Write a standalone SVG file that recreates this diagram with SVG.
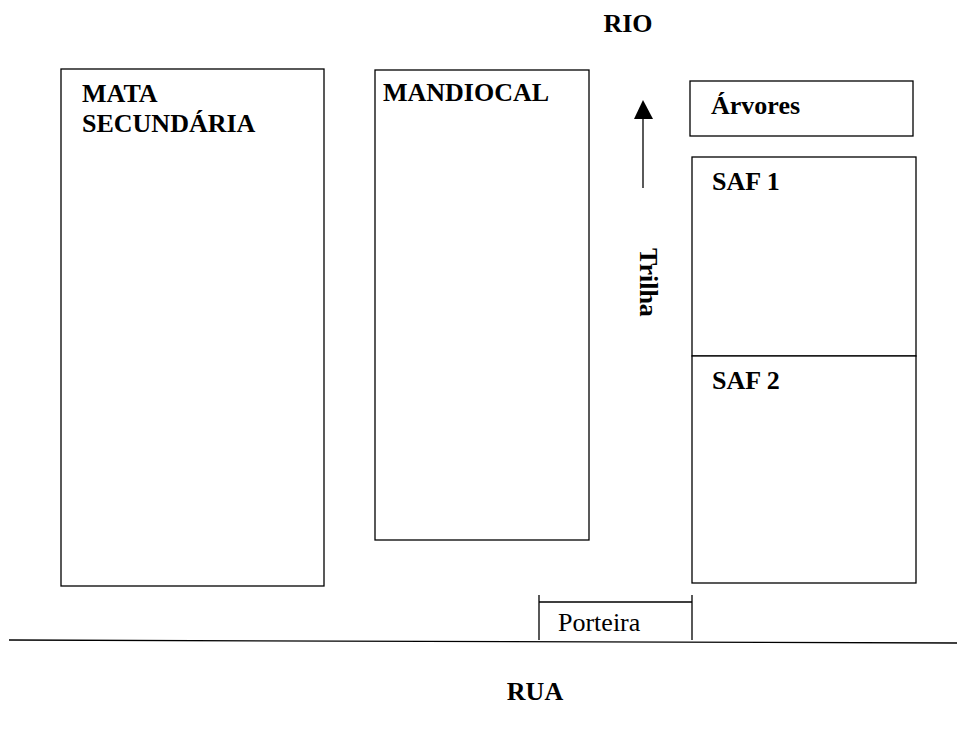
<svg xmlns="http://www.w3.org/2000/svg" width="957" height="740" viewBox="0 0 957 740">
<style>
.box{fill:#fff;stroke:#000;stroke-width:1.3}
.b{font-family:"Liberation Serif","Times New Roman",serif;font-weight:bold;font-size:26px;fill:#000}
.r{font-family:"Liberation Serif","Times New Roman",serif;font-size:26px;fill:#000}
.ln{stroke:#000;stroke-width:1.3;fill:none}
</style>
<rect width="957" height="740" fill="#fff"/>
<g id="mata"><rect class="box" x="61" y="69" width="263" height="517"/><text class="b" x="82" y="102">MATA</text><text class="b" x="82" y="132">SECUNDÁRIA</text></g>
<g id="mandiocal"><rect class="box" x="375" y="70" width="214" height="470"/><text class="b" x="383" y="101">MANDIOCAL</text></g>
<g id="arvores"><rect class="box" x="690" y="81" width="223" height="55"/><text class="b" x="711" y="114">Árvores</text></g>
<g id="saf1"><rect class="box" x="692" y="157" width="224" height="199"/><text class="b" x="712" y="190">SAF 1</text></g>
<g id="saf2"><rect class="box" x="692" y="356" width="224" height="227"/><text class="b" x="712" y="389">SAF 2</text></g>
<g id="rio"><text class="b" x="628" y="32" text-anchor="middle">RIO</text></g>
<g id="rua"><text class="b" x="535" y="700" text-anchor="middle">RUA</text></g>
<g id="trilha"><text class="b" transform="translate(640,248) rotate(90)">Trilha</text></g>
<g id="porteira"><path class="ln" d="M539,595V640M692,595V640M539,602H692"/><text class="r" x="558" y="631">Porteira</text></g>
<g id="connectors">
<line class="ln" x1="9" y1="640" x2="957" y2="643"/>
<line class="ln" x1="643" y1="188" x2="643" y2="117"/>
<polygon points="643,100 634,119 653,119" fill="#000"/>
</g>
</svg>
